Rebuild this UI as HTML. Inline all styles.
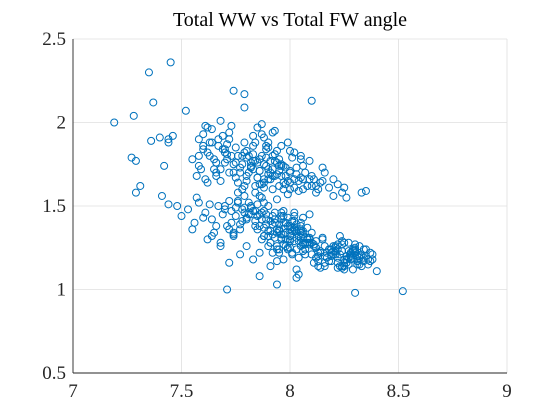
<!DOCTYPE html>
<html><head><meta charset="utf-8"><style>
body{margin:0;background:#fff;}
svg{display:block;font-family:"Liberation Serif",serif;}
</style></head><body>
<svg id="chart" width="560" height="420">
<rect x="0" y="0" width="560" height="420" fill="#fff"/>
<g id="grid"></g>
<g id="pts"></g>
<g id="axes"></g>
<text x="290" y="26" text-anchor="middle" font-size="20">Total WW vs Total FW angle</text>
</svg>
<script>
const xTicks=[7,7.5,8,8.5,9];
const xTickLabels=["7","7.5","8","8.5","9"];
const yTicks=[0.5,1,1.5,2,2.5];
const yTickLabels=["0.5","1","1.5","2","2.5"];
const xs=[7.19,7.35,7.45,7.37,7.28,7.36,7.40,7.44,7.46,7.44,7.27,7.29,7.31,7.29,7.42,7.41,7.44,7.48,7.52,7.74,7.79,7.79,8.10,7.71,7.94,8.30,8.52,7.86,8.03,8.04,
7.55,7.58,7.60,7.62,7.57,7.64,7.66,7.68,7.70,7.72,7.61,7.63,7.59,7.67,7.69,7.71,7.73,7.75,7.77,7.79,7.81,7.83,7.85,7.87,7.89,7.91,7.93,7.95,7.97,7.99,
7.74,7.76,7.78,7.80,7.82,7.84,7.86,7.88,7.90,7.92,7.94,7.96,7.98,8.00,8.02,8.04,8.06,8.08,8.10,8.12,8.14,8.16,8.18,8.20,8.22,8.24,8.26,8.33,8.35,8.13,
7.80,7.83,7.86,7.89,7.92,7.95,7.98,8.01,8.04,8.07,8.10,7.82,7.85,7.88,7.91,7.94,7.97,8.00,8.03,8.06,7.65,7.68,7.71,7.62,7.66,7.70,7.75,7.78,7.84,7.87,
7.90,7.93,7.96,7.99,8.02,8.05,8.08,8.11,7.87,7.90,7.85,7.88,7.92,7.96,8.00,8.05,8.09,8.15,8.20,8.25,7.60,7.63,7.58,7.66,7.69,7.72,7.76,7.79,7.83,7.86,
7.50,7.53,7.56,7.55,7.58,7.61,7.64,7.67,7.70,7.73,7.76,7.79,7.82,7.85,7.88,7.62,7.65,7.68,7.71,7.74,7.77,7.80,7.57,7.60,7.63,7.66,7.69,7.72,7.75,7.78,
7.81,7.84,7.87,7.90,7.93,7.96,7.99,8.02,8.05,8.08,7.88,7.91,7.94,7.97,8.00,8.03,8.06,8.09,8.12,7.92,7.95,7.98,8.01,8.04,8.07,7.96,7.99,8.02,8.05,7.90,
8.10,8.13,8.16,8.19,8.22,8.25,8.28,8.31,8.34,8.37,8.15,8.18,8.21,8.24,8.27,8.30,8.33,8.36,8.12,8.16,8.20,8.24,8.28,8.32,8.38,8.40,8.14,8.18,8.22,8.26,
8.30,8.34,8.23,8.27,8.29,8.31,8.21,8.25,8.08,8.11,7.98,8.01,7.97,8.03,8.06,8.00,7.94,7.91,7.86,7.83,7.80,7.77,7.74,7.72,7.68,7.64,7.84,7.88,8.02,8.09,
7.95,7.97,7.99,8.01,8.03,8.05,7.96,7.98,8.00,8.02,8.04,8.06,7.94,7.97,8.00,8.03,8.06,8.08,7.93,7.96,7.99,8.02,8.05,8.07,7.98,8.01,8.04,7.95,8.00,8.05,
7.92,7.94,7.97,8.00,8.03,8.06,8.09,8.11,7.91,7.95,7.99,8.03,8.07,8.10,8.12,8.14,7.89,7.93,7.97,8.01,8.05,8.09,8.13,8.15,7.98,8.02,8.06,7.96,8.04,8.08,
8.18,8.20,8.22,8.24,8.26,8.28,8.30,8.32,8.19,8.21,8.23,8.25,8.27,8.29,8.31,8.33,8.17,8.20,8.23,8.26,8.29,8.32,8.35,8.22,8.25,8.28,8.31,8.24,8.27,8.30,
8.16,8.19,8.22,8.25,8.28,8.31,8.34,8.21,8.24,8.27,8.30,8.33,8.26,8.29,8.32,8.36,8.38,8.35,8.37,8.13,
7.78,7.80,7.82,7.84,7.86,7.88,7.90,7.92,7.79,7.81,7.83,7.85,7.87,7.89,7.91,7.93,7.95,7.77,7.80,7.83,7.86,7.89,7.92,7.95,7.98,7.76,7.82,7.88,7.94,8.00,
7.84,7.87,7.90,7.93,7.96,7.99,8.02,8.05,7.97,8.00,8.03,8.06,8.09,8.12,8.15,7.70,7.73,7.75,7.68,7.72,7.65,7.62,7.60,7.67,7.64,7.71,7.74,7.58,7.61,7.66,
7.70,7.73,7.76,7.79,7.82,7.85,7.75,7.78,7.81,7.84,7.87,7.72,7.77,7.80,7.83,7.86,7.89,7.92,7.88,7.91,7.94,7.97,7.85,7.90,7.95,7.82,7.87,7.92,7.79,7.74,
8.08,8.11,8.14,8.17,8.07,8.10,8.13,8.16,8.19,8.05,8.09,8.12,7.90,7.93,7.96,7.86,7.89,7.88,7.91,7.94];
const ys=[2.00,2.30,2.36,2.12,2.04,1.89,1.91,1.88,1.92,1.90,1.79,1.77,1.62,1.58,1.74,1.56,1.51,1.50,2.07,2.19,2.17,2.09,2.13,1.00,1.03,0.98,0.99,1.08,1.07,1.09,
1.78,1.90,1.84,1.97,1.68,1.88,1.76,2.01,1.82,1.94,1.66,1.80,1.72,1.86,1.92,1.78,1.98,1.85,1.73,1.88,1.80,1.92,1.76,1.99,1.84,1.70,1.95,1.78,1.74,1.88,
1.70,1.64,1.80,1.68,1.74,1.62,1.78,1.66,1.72,1.60,1.76,1.68,1.63,1.71,1.66,1.59,1.74,1.62,1.68,1.58,1.64,1.70,1.61,1.56,1.63,1.58,1.55,1.58,1.59,1.60,
1.83,1.77,1.71,1.86,1.80,1.74,1.68,1.79,1.65,1.70,1.62,1.73,1.67,1.61,1.77,1.69,1.64,1.60,1.73,1.66,1.72,1.65,1.81,1.64,1.70,1.76,1.67,1.60,1.58,1.55,
1.66,1.81,1.75,1.57,1.82,1.78,1.62,1.66,1.93,1.88,1.97,1.91,1.94,1.86,1.83,1.80,1.77,1.73,1.66,1.61,1.93,1.88,1.74,1.76,1.84,1.90,1.58,1.62,1.72,1.56,
1.44,1.48,1.40,1.36,1.52,1.46,1.42,1.50,1.48,1.40,1.52,1.46,1.50,1.44,1.47,1.30,1.34,1.28,1.38,1.32,1.36,1.42,1.55,1.43,1.51,1.38,1.45,1.53,1.49,1.41,
1.45,1.38,1.42,1.35,1.40,1.33,1.30,1.36,1.38,1.31,1.32,1.28,1.36,1.33,1.29,1.34,1.27,1.31,1.25,1.22,1.39,1.30,1.37,1.32,1.28,1.44,1.24,1.41,1.26,1.26,
1.28,1.22,1.26,1.20,1.24,1.18,1.22,1.20,1.17,1.22,1.30,1.24,1.21,1.27,1.19,1.25,1.21,1.15,1.19,1.16,1.23,1.14,1.20,1.26,1.18,1.11,1.13,1.17,1.13,1.16,
1.23,1.19,1.32,1.28,1.12,1.15,1.23,1.14,1.28,1.16,1.40,1.21,1.18,1.12,1.35,1.25,1.17,1.14,1.22,1.18,1.26,1.21,1.34,1.16,1.26,1.32,1.47,1.52,1.46,1.45,
1.36,1.33,1.38,1.35,1.31,1.34,1.30,1.40,1.32,1.37,1.29,1.33,1.34,1.27,1.36,1.39,1.28,1.30,1.42,1.31,1.25,1.29,1.36,1.27,1.34,1.41,1.32,1.24,1.38,1.35,
1.39,1.26,1.44,1.30,1.24,1.43,1.30,1.26,1.35,1.22,1.43,1.35,1.21,1.34,1.29,1.23,1.45,1.31,1.47,1.22,1.40,1.27,1.20,1.31,1.26,1.44,1.23,1.46,1.19,1.37,
1.24,1.21,1.19,1.23,1.20,1.18,1.22,1.19,1.17,1.25,1.21,1.16,1.23,1.19,1.17,1.21,1.22,1.26,1.14,1.20,1.24,1.15,1.20,1.27,1.12,1.22,1.18,1.29,1.15,1.24,
1.20,1.24,1.16,1.28,1.21,1.17,1.24,1.26,1.13,1.19,1.27,1.14,1.18,1.23,1.20,1.18,1.21,1.24,1.17,1.14,
1.75,1.79,1.73,1.77,1.71,1.75,1.69,1.72,1.82,1.70,1.81,1.67,1.80,1.74,1.66,1.77,1.71,1.70,1.65,1.86,1.63,1.79,1.68,1.62,1.73,1.80,1.76,1.64,1.83,1.70,
1.88,1.63,1.85,1.68,1.74,1.65,1.61,1.67,1.60,1.64,1.69,1.60,1.66,1.62,1.65,1.84,1.80,1.76,1.72,1.70,1.78,1.82,1.86,1.90,1.96,1.87,1.75,1.80,1.98,1.68,
1.50,1.47,1.53,1.49,1.45,1.51,1.44,1.48,1.52,1.41,1.46,1.36,1.39,1.43,1.47,1.38,1.42,1.44,1.37,1.41,1.54,1.40,1.36,1.32,1.35,1.49,1.30,1.33,1.56,1.33,
1.30,1.27,1.22,1.19,1.24,1.21,1.17,1.14,1.22,1.31,1.28,1.25,1.50,1.46,1.42,1.45,1.39,1.32,1.28,1.24];

const L=73,R=507,T=39,B=373;
const sx=v=>L+(v-7)/2*(R-L);
const sy=v=>B-(v-0.5)/2*(B-T);
const NS="http://www.w3.org/2000/svg";
function mk(tag,attrs,parent){const e=document.createElementNS(NS,tag);for(const k in attrs)e.setAttribute(k,attrs[k]);parent.appendChild(e);return e;}
const grid=document.getElementById('grid'),axes=document.getElementById('axes'),pts=document.getElementById('pts');
xTicks.forEach((t,i)=>{
  const g=mk('line',{x1:sx(t),x2:sx(t),y1:T,y2:B,stroke:'#dfdfdf','stroke-width':0.8},grid);
  
  
  const tx=mk('text',{x:sx(t),y:B+24,'text-anchor':'middle','font-size':19,fill:'#262626'},axes);
  tx.textContent=xTickLabels[i];
  
  
});
yTicks.forEach((t,i)=>{
  const g=mk('line',{x1:L,x2:R,y1:sy(t),y2:sy(t),stroke:'#dfdfdf','stroke-width':0.8},grid);
  
  
  const tx=mk('text',{x:L-7,y:sy(t)+6,'text-anchor':'end','font-size':19,fill:'#262626'},axes);
  tx.textContent=yTickLabels[i];
  
  
});
const xa=mk('line',{x1:L,x2:R,y1:B,y2:B,stroke:'#262626','stroke-width':0.9},axes);


const ya=mk('line',{x1:L,x2:L,y1:T,y2:B,stroke:'#262626','stroke-width':0.9},axes);


xs.forEach((x,i)=>{
  const c=mk('circle',{cx:sx(x),cy:sy(ys[i]),r:3.5,fill:'none',stroke:'#0072BD','stroke-width':1},pts);
  
  
});
</script>
</body></html>
